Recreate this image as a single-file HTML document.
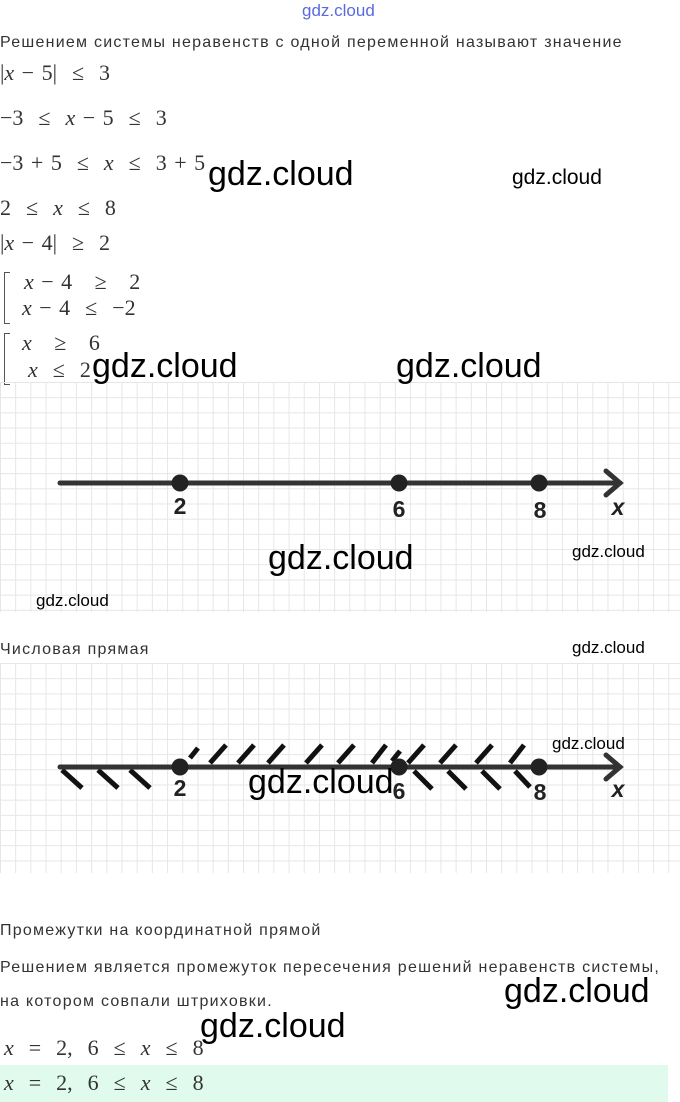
<!DOCTYPE html>
<html><head><meta charset="utf-8"><style>
body{margin:0;width:680px;height:1102px;background:#fff;position:relative;overflow:hidden}
.a{position:absolute;white-space:nowrap;line-height:1}
.t{font-family:"Liberation Sans",sans-serif;font-size:16px;color:#333;letter-spacing:1.25px}
.m{font-family:"Liberation Serif",serif;font-size:22px;color:#333;word-spacing:2px}
.m i{font-style:italic}
.w{font-family:"Liberation Sans",sans-serif;color:#000}
.big{font-size:34px}
.sm{font-size:17px}
.grid{position:absolute;left:0;width:680px;background-image:linear-gradient(#e6e6e6 1px,transparent 1px),linear-gradient(90deg,#e6e6e6 1px,transparent 1px);background-size:15.2px 15.2px}
</style></head><body>
<div class="a w" style="left:302px;top:2px;font-size:17px;color:#5a6ae0">gdz.cloud</div>
<div class="a t" style="left:0;top:35px">Решением системы неравенств с одной переменной называют значение</div>
<div class="a m" style="left:0;top:62px">|<i>x</i> − 5| &nbsp;≤&nbsp; 3</div>
<div class="a m" style="left:0;top:107px">−3 &nbsp;≤&nbsp; <i>x</i> − 5 &nbsp;≤&nbsp; 3</div>
<div class="a m" style="left:0;top:152px">−3 + 5 &nbsp;≤&nbsp; <i>x</i> &nbsp;≤&nbsp; 3 + 5</div>
<div class="a m" style="left:0;top:197px">2 &nbsp;≤&nbsp; <i>x</i> &nbsp;≤&nbsp; 8</div>
<div class="a m" style="left:0;top:232px">|<i>x</i> − 4| &nbsp;≥&nbsp; 2</div>
<div class="a" style="left:4px;top:272px;width:5px;height:50px;border:1px solid #555;border-right:none"></div>
<div class="a m" style="left:24px;top:271px"><i>x</i> − 4 &nbsp;&nbsp;≥&nbsp;&nbsp; 2</div>
<div class="a m" style="left:22px;top:297px"><i>x</i> − 4 &nbsp;≤&nbsp; −2</div>
<div class="a" style="left:4px;top:333px;width:5px;height:50px;border:1px solid #555;border-right:none"></div>
<div class="a m" style="left:22px;top:332px"><i>x</i> &nbsp;&nbsp;≥&nbsp;&nbsp; 6</div>
<div class="a m" style="left:28px;top:359px"><i>x</i> &nbsp;≤&nbsp; 2</div>

<div class="grid" style="top:382px;height:230px"></div>
<svg class="a" style="left:0;top:382px" width="680" height="230">
<line x1="60" y1="101" x2="620" y2="101" stroke="#333" stroke-width="5" stroke-linecap="round"/>
<polyline points="606,89 620,101 606,113" fill="none" stroke="#333" stroke-width="5" stroke-linecap="round"/>
<circle cx="180" cy="101" r="8.5" fill="#222"/><circle cx="399" cy="101" r="8.5" fill="#222"/><circle cx="539" cy="101" r="8.5" fill="#222"/>
<g font-family="Liberation Sans,sans-serif" font-size="23" font-weight="bold" fill="#222" text-anchor="middle">
<text x="180" y="132">2</text><text x="399" y="135">6</text><text x="540" y="136">8</text><text x="618" y="133" font-style="italic">x</text></g>
</svg>

<div class="grid" style="top:663px;height:210px"></div>
<svg class="a" style="left:0;top:663px" width="680" height="210">
<g stroke="#111" stroke-width="5">
<line x1="62" y1="107" x2="82" y2="125"/><line x1="98" y1="107" x2="118" y2="125"/><line x1="130" y1="107" x2="150" y2="125"/>
<line x1="190" y1="95" x2="198" y2="85"/><line x1="210" y1="100" x2="226" y2="82"/><line x1="238" y1="100" x2="254" y2="82"/><line x1="268" y1="100" x2="284" y2="82"/><line x1="306" y1="100" x2="322" y2="82"/><line x1="338" y1="100" x2="354" y2="82"/><line x1="372" y1="100" x2="386" y2="82"/><line x1="392" y1="98" x2="400" y2="88"/>
<line x1="408" y1="100" x2="424" y2="82"/><line x1="440" y1="100" x2="456" y2="82"/><line x1="476" y1="100" x2="492" y2="82"/><line x1="510" y1="100" x2="524" y2="82"/>
<line x1="414" y1="108" x2="432" y2="126"/><line x1="448" y1="108" x2="466" y2="126"/><line x1="482" y1="108" x2="500" y2="126"/><line x1="515" y1="108" x2="530" y2="124"/>
</g>
<line x1="60" y1="104" x2="620" y2="104" stroke="#333" stroke-width="5" stroke-linecap="round"/>
<polyline points="606,92 620,104 606,116" fill="none" stroke="#333" stroke-width="5" stroke-linecap="round"/>
<circle cx="180" cy="104" r="8.5" fill="#222"/><circle cx="399" cy="104" r="8.5" fill="#222"/><circle cx="539" cy="104" r="8.5" fill="#222"/>
<g font-family="Liberation Sans,sans-serif" font-size="23" font-weight="bold" fill="#222" text-anchor="middle">
<text x="180" y="133">2</text><text x="399" y="136">6</text><text x="540" y="137">8</text><text x="618" y="134" font-style="italic">x</text></g>
</svg>

<div class="a w big" style="left:208px;top:157px">gdz.cloud</div>
<div class="a w" style="left:512px;top:167px;font-size:21px">gdz.cloud</div>
<div class="a w big" style="left:92px;top:349px">gdz.cloud</div>
<div class="a w big" style="left:396px;top:349px">gdz.cloud</div>
<div class="a w big" style="left:268px;top:541px">gdz.cloud</div>
<div class="a w sm" style="left:572px;top:543px">gdz.cloud</div>
<div class="a w sm" style="left:36px;top:592px">gdz.cloud</div>
<div class="a t" style="left:0;top:642px">Числовая прямая</div>
<div class="a w sm" style="left:572px;top:639px">gdz.cloud</div>
<div class="a w sm" style="left:552px;top:735px">gdz.cloud</div>
<div class="a w big" style="left:248px;top:765px">gdz.cloud</div>

<div class="a t" style="left:0;top:923px">Промежутки на координатной прямой</div>
<div class="a t" style="left:0;top:960px">Решением является промежуток пересечения решений неравенств системы,</div>
<div class="a t" style="left:0;top:994px">на котором совпали штриховки.</div>
<div class="a w big" style="left:504px;top:974px">gdz.cloud</div>
<div class="a w big" style="left:200px;top:1009px">gdz.cloud</div>
<div class="a m" style="left:4px;top:1037px"><i>x</i> &nbsp;=&nbsp; 2, &nbsp;6 &nbsp;≤&nbsp; <i>x</i> &nbsp;≤&nbsp; 8</div>
<div class="a" style="left:0;top:1065px;width:668px;height:37px;background:#e0fbee"></div>
<div class="a m" style="left:4px;top:1072px"><i>x</i> &nbsp;=&nbsp; 2, &nbsp;6 &nbsp;≤&nbsp; <i>x</i> &nbsp;≤&nbsp; 8</div>
</body></html>
